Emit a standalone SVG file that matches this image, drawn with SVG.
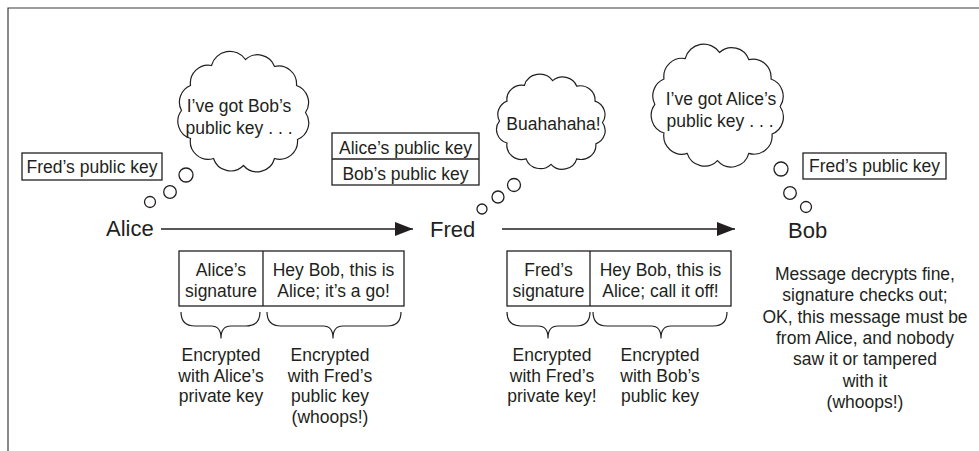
<svg xmlns="http://www.w3.org/2000/svg" xmlns:xlink="http://www.w3.org/1999/xlink" width="979" height="451" viewBox="0 0 979 451">
  <style>
    text { font-family: "Liberation Sans", Arial, sans-serif; fill: #231f20; }
    .t { font-size: 17.5px; text-anchor: middle; }
    .name { font-size: 22px; }
    .box { fill: none; stroke: #231f20; stroke-width: 1.3; }
    .ln { fill: none; stroke: #231f20; stroke-width: 1.3; }
    .bubble { fill: #fff; stroke: #231f20; stroke-width: 1.3; }
    .cloud { fill: #fff; stroke: #231f20; stroke-width: 1.2; }
    .brace { fill: none; stroke: #231f20; stroke-width: 1.2; stroke-linejoin: round; }
    .frame { fill: none; stroke: #3a3a3a; stroke-width: 1.2; }
  </style>
  <defs>
    <marker id="arrow" markerWidth="18" markerHeight="14" refX="18" refY="7" orient="auto" markerUnits="userSpaceOnUse">
      <path d="M0,0 L18,7 L0,14 Z" fill="#231f20"/>
    </marker>
    <!-- scalloped thought cloud, centred on the origin -->
    <path id="cloudShape" vector-effect="non-scaling-stroke" d="M62,0 A18,18 0 0 1 54,27 A18,18 0 0 1 31,46 A18,18 0 0 1 0,53 A18,18 0 0 1 -30,46 A18,18 0 0 1 -53,26 A18,18 0 0 1 -62,-2 A18,18 0 0 1 -53,-27 A18,18 0 0 1 -32,-47 A19,19 0 0 1 2,-53 A18,18 0 0 1 31,-46 A18,18 0 0 1 53,-27 A18,18 0 0 1 62,0 Z"/>
  </defs>

  <!-- frame -->
  <path class="frame" d="M8,451 L8,8 L979,8"/>

  <!-- Alice -->
  <g id="alice">
    <text class="name" x="106" y="236">Alice</text>
    <rect class="box" x="22" y="153" width="140" height="27"/>
    <text class="t" x="92" y="173">Fred’s public key</text>
  </g>
  <g id="alice-thought">
    <use href="#cloudShape" class="cloud" transform="translate(243.5,112.5)"/>
    <text class="t" x="239" y="112">I’ve got Bob’s</text>
    <text class="t" x="239" y="134">public key . . .</text>
    <circle class="bubble" cx="186" cy="175" r="7"/>
    <circle class="bubble" cx="170" cy="192" r="6.3"/>
    <circle class="bubble" cx="150" cy="202" r="5.5"/>
  </g>

  <!-- Fred -->
  <g id="fred">
    <text class="name" x="430" y="237">Fred</text>
    <rect class="box" x="332" y="133" width="147" height="52"/>
    <line class="ln" x1="332" y1="159" x2="479" y2="159"/>
    <text class="t" x="405.5" y="154">Alice’s public key</text>
    <text class="t" x="405.5" y="180">Bob’s public key</text>
  </g>
  <g id="fred-thought">
    <use href="#cloudShape" class="cloud" transform="translate(551,122.5) scale(0.83,0.79)"/>
    <text class="t" x="553.5" y="130">Buahahaha!</text>
    <circle class="bubble" cx="514" cy="185" r="6.5"/>
    <circle class="bubble" cx="498" cy="197" r="6"/>
    <circle class="bubble" cx="482" cy="209" r="5"/>
  </g>

  <!-- Bob -->
  <g id="bob">
    <text class="name" x="788" y="238">Bob</text>
    <rect class="box" x="803" y="153" width="143" height="26"/>
    <text class="t" x="874.5" y="172">Fred’s public key</text>
  </g>
  <g id="bob-thought">
    <use href="#cloudShape" class="cloud" transform="translate(717.5,106.5) scale(1.01,1.02)"/>
    <text class="t" x="721" y="105">I’ve got Alice’s</text>
    <text class="t" x="720" y="127">public key . . .</text>
    <circle class="bubble" cx="781" cy="169" r="7"/>
    <circle class="bubble" cx="790" cy="193" r="6.3"/>
    <circle class="bubble" cx="806" cy="207" r="5.5"/>
  </g>
  <g id="bob-conclusion">
    <text class="t" x="865" y="280">Message decrypts fine,</text>
    <text class="t" x="865" y="301">signature checks out;</text>
    <text class="t" x="865" y="323">OK, this message must be</text>
    <text class="t" x="865" y="344">from Alice, and nobody</text>
    <text class="t" x="865" y="365">saw it or tampered</text>
    <text class="t" x="865" y="387">with it</text>
    <text class="t" x="865" y="408">(whoops!)</text>
  </g>

  <!-- message sent by Alice -->
  <g id="message-alice">
    <rect class="box" x="179" y="251" width="225" height="55"/>
    <line class="ln" x1="263" y1="251" x2="263" y2="306"/>
    <text class="t" x="221" y="276">Alice’s</text>
    <text class="t" x="221" y="297">signature</text>
    <text class="t" x="333.5" y="276">Hey Bob, this is</text>
    <text class="t" x="333.5" y="297">Alice; it’s a go!</text>
    <path class="brace" d="M181,312 Q181,326 195,326 L211,326 Q221,326 221,338 Q221,326 231,326 L246,326 Q260,326 260,312"/>
    <path class="brace" d="M267,312 Q267,326 281,326 L323,326 Q333,326 333,338 Q333,326 343,326 L387,326 Q401,326 401,312"/>
    <text class="t" x="221" y="361">Encrypted</text>
    <text class="t" x="221" y="382">with Alice’s</text>
    <text class="t" x="221" y="402">private key</text>
    <text class="t" x="330" y="361">Encrypted</text>
    <text class="t" x="330" y="382">with Fred’s</text>
    <text class="t" x="330" y="402">public key</text>
    <text class="t" x="330" y="423">(whoops!)</text>
  </g>

  <!-- message forwarded by Fred -->
  <g id="message-fred">
    <rect class="box" x="507" y="251" width="224" height="55"/>
    <line class="ln" x1="590" y1="251" x2="590" y2="306"/>
    <text class="t" x="548.5" y="276">Fred’s</text>
    <text class="t" x="548.5" y="297">signature</text>
    <text class="t" x="660.5" y="276">Hey Bob, this is</text>
    <text class="t" x="660.5" y="297">Alice; call it off!</text>
    <path class="brace" d="M507,312 Q507,326 521,326 L538,326 Q548,326 548,338 Q548,326 558,326 L576,326 Q590,326 590,312"/>
    <path class="brace" d="M593,312 Q593,326 607,326 L651,326 Q661,326 661,338 Q661,326 671,326 L713,326 Q727,326 727,312"/>
    <text class="t" x="552" y="361">Encrypted</text>
    <text class="t" x="552" y="382">with Fred’s</text>
    <text class="t" x="552" y="402">private key!</text>
    <text class="t" x="660" y="361">Encrypted</text>
    <text class="t" x="660" y="382">with Bob’s</text>
    <text class="t" x="660" y="402">public key</text>
  </g>

  <!-- connectors -->
  <g id="connectors">
    <line class="ln" x1="161" y1="229" x2="413" y2="229" marker-end="url(#arrow)"/>
    <line class="ln" x1="502" y1="229" x2="735" y2="229" marker-end="url(#arrow)"/>
  </g>
</svg>
